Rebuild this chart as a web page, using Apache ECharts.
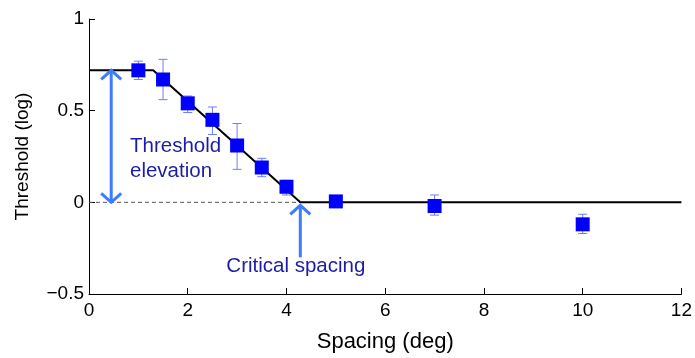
<!DOCTYPE html>
<html><head><meta charset="utf-8">
<script src="https://cdn.jsdelivr.net/npm/echarts@6/dist/echarts.min.js"></script>
<style>html,body{margin:0;padding:0;background:#fff}#c{width:695px;height:358px}</style>
</head><body><div id="c"></div>
<script>
// ---- data ----
const spacing   = [1, 1.5, 2, 2.5, 3, 3.5, 4, 5, 7, 10];
const threshold = [0.72, 0.67, 0.54, 0.45, 0.31, 0.19, 0.085, 0.005, -0.02, -0.12];
const errLow    = [0.67, 0.56, 0.49, 0.37, 0.18, 0.14, 0.04, -0.005, -0.07, -0.17];
const errHigh   = [0.77, 0.78, 0.58, 0.52, 0.43, 0.24, 0.12, 0.015, 0.04, -0.065];
const fitX = [0, 1.3, 4.28, 12];
const fitY = [0.72, 0.72, 0, 0];
const baseX = [0, 4.28];
const baseY = [0, 0];
const xTicks = [0, 2, 4, 6, 8, 10, 12];
const yTicks = [-0.5, 0, 0.5, 1];
const arrowX    = [0.45, 4.28];
const arrowFrom = [0, -0.3];
const arrowTo   = [0.72, -0.016];
const arrowBoth = [true, false];
const noteText = ['Threshold', 'elevation', 'Critical spacing'];
const noteX    = [0.83, 0.83, 4.19];
const noteY    = [0.305, 0.17, -0.35];
const noteAlign = ['left', 'left', 'center'];

const sans = "'Liberation Sans', Arial, sans-serif";
const arrowColor = '#3d7bff';

const chart = echarts.init(document.getElementById('c'), null, {renderer: 'canvas'});

function chevron(p, dir) { // dir: -1 pointing up (screen), 1 pointing down
  const w = 10, h = 9;
  return [[p[0] - w, p[1] - dir * h], [p[0], p[1]], [p[0] + w, p[1] - dir * h]];
}

chart.setOption({
  animation: false,
  grid: {left: 89, right: 12, top: 19, bottom: 60},
  xAxis: {
    type: 'value', min: xTicks[0], max: xTicks[xTicks.length - 1], interval: 2,
    name: 'Spacing (deg)', nameLocation: 'middle', nameGap: 37,
    nameTextStyle: {fontFamily: sans, fontSize: 22, color: '#000'},
    axisLine: {show: true, onZero: false, lineStyle: {color: '#000', width: 1}},
    axisTick: {show: true, inside: true, length: 6, lineStyle: {color: '#000'}},
    axisLabel: {fontFamily: sans, fontSize: 19, color: '#000', margin: 7},
    splitLine: {show: false}
  },
  yAxis: {
    type: 'value', min: yTicks[0], max: yTicks[yTicks.length - 1], interval: 0.5,
    name: 'Threshold (log)', nameLocation: 'middle', nameGap: 57, nameRotate: 90,
    nameTextStyle: {fontFamily: sans, fontSize: 19, color: '#000'},
    axisLine: {show: true, onZero: false, lineStyle: {color: '#000', width: 1}},
    axisTick: {show: true, inside: true, length: 6, lineStyle: {color: '#000'}},
    axisLabel: {fontFamily: sans, fontSize: 19, color: '#000', margin: 5,
      formatter: v => String(v).replace('-', '\u2212')},
    splitLine: {show: false}
  },
  series: [
    {
      type: 'line', data: baseX.map((x, i) => [x, baseY[i]]), symbol: 'none', silent: true,
      lineStyle: {color: '#555', width: 1, type: [4, 3]}, z: 1
    },
    {
      type: 'line', data: fitX.map((x, i) => [x, fitY[i]]), symbol: 'none', silent: true,
      lineStyle: {color: '#000', width: 2}, z: 2
    },
    {
      type: 'custom', z: 3,
      data: spacing.map((x, i) => [x, errLow[i], errHigh[i]]),
      renderItem: (params, api) => {
        const lo = api.coord([api.value(0), api.value(1)]);
        const hi = api.coord([api.value(0), api.value(2)]);
        const c = 4.5;
        const st = {stroke: '#6f7dff', lineWidth: 1, fill: null};
        return {type: 'group', children: [
          {type: 'line', shape: {x1: lo[0], y1: lo[1], x2: hi[0], y2: hi[1]}, style: st},
          {type: 'line', shape: {x1: lo[0] - c, y1: lo[1], x2: lo[0] + c, y2: lo[1]}, style: st},
          {type: 'line', shape: {x1: hi[0] - c, y1: hi[1], x2: hi[0] + c, y2: hi[1]}, style: st}
        ]};
      }
    },
    {
      type: 'scatter', z: 4, data: spacing.map((x, i) => [x, threshold[i]]),
      symbol: 'rect', symbolSize: 14, itemStyle: {color: '#0000ff', opacity: 1}
    },
    {
      type: 'custom', z: 5,
      data: arrowX.map((x, i) => [x, arrowFrom[i], arrowTo[i], arrowBoth[i] ? 1 : 0]),
      renderItem: (params, api) => {
        const a = api.coord([api.value(0), api.value(1)]);
        const b = api.coord([api.value(0), api.value(2)]);
        const st = {stroke: arrowColor, lineWidth: 3, fill: null, lineJoin: 'miter'};
        const ch = [
          {type: 'line', shape: {x1: a[0], y1: a[1], x2: b[0], y2: b[1]}, style: st},
          {type: 'polyline', shape: {points: chevron(b, -1)}, style: st}
        ];
        if (api.value(3)) ch.push({type: 'polyline', shape: {points: chevron(a, 1)}, style: st});
        return {type: 'group', children: ch};
      }
    },
    {
      type: 'custom', z: 6,
      data: noteX.map((x, i) => [x, noteY[i], i]),
      renderItem: (params, api) => {
        const p = api.coord([api.value(0), api.value(1)]);
        const i = api.value(2);
        return {type: 'text', x: p[0], y: p[1], style: {
          text: noteText[i], fill: '#1c1ca8', fontSize: 20.5, fontFamily: sans,
          align: noteAlign[i], verticalAlign: 'middle'
        }};
      }
    }
  ]
});
</script>
</body></html>
